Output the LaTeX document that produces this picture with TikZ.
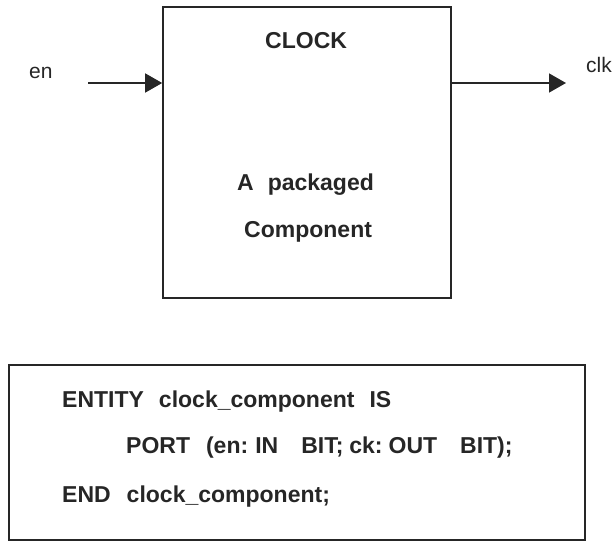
\documentclass[tikz,border=0pt]{standalone}
\usepackage{fontspec}
\setmainfont{Liberation Sans}
\usetikzlibrary{arrows.meta}
\definecolor{ink}{HTML}{262626}
% fixed gaps between words, in pt
\newcommand{\gap}[1]{\hspace{#1pt}}
\tikzset{
  frame/.style={draw=ink, line width=1.6pt, fill=white, inner sep=0pt},
  label/.style={text=ink, inner sep=0pt, anchor=base west, font=\fontsize{23}{26}\selectfont\bfseries},
  portname/.style={text=ink, inner sep=0pt, anchor=base west, font=\fontsize{21}{24}\selectfont},
  wire/.style={draw=ink, line width=1.4pt},
  tip/.style={-{Triangle[length=17pt,width=19pt]}}
}
\begin{document}
\begin{tikzpicture}[x=1pt,y=-1pt]
  \useasboundingbox (0,0) rectangle (613,541);

  % the packaged component
  \node[frame, minimum width=288pt, minimum height=291pt] (box) at (307,152.5) {};
  \node[label] (title) at (265,48) {CLOCK};
  \node[label] (desc1) at (237,190) {A\gap{14}packaged};
  \node[label] (desc2) at (244,237) {Component};

  % ports
  \node[portname] (en) at (29,78) {en};
  \node[portname] (clk) at (586,72) {clk};
  \coordinate (enStart) at (88,83);
  \coordinate (clkEnd) at (566,83);
  \draw[wire, tip] (enStart) -- (enStart -| box.west);
  \draw[wire, tip] (clkEnd -| box.east) -- (clkEnd);

  % entity declaration
  \node[frame, minimum width=576pt, minimum height=175pt] (code) at (297,452.5) {};
  \node[label] (l1) at (62,407)
    {ENTITY\gap{15}clock\_component\gap{15}IS};
  \node[label] (l2) at (126,453)
    {PORT\gap{16}(en:\gap{7}IN\gap{23}BIT;\gap{6}ck:\gap{6}OUT\gap{23}BIT);};
  \node[label] (l3) at (62,502)
    {END\gap{16}clock\_component;};
\end{tikzpicture}
\end{document}
